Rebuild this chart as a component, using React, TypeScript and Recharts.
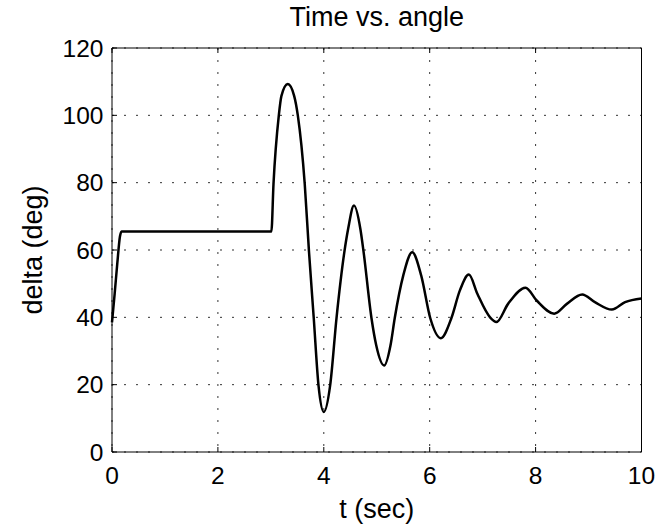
import React from 'react';
import { LineChart, Line, XAxis, YAxis, CartesianGrid } from 'recharts';

const timeSec = [
  0, 0.05, 0.1, 0.15, 0.18, 1, 2, 3.01,
  3.05, 3.15, 3.2, 3.32, 3.44, 3.51, 3.64, 3.72, 3.81, 3.9, 4.0,
  4.12, 4.24, 4.39, 4.46, 4.57, 4.69, 4.75, 4.9, 4.99, 5.14,
  5.26, 5.34, 5.5, 5.67, 5.84, 6.01, 6.21, 6.41, 6.57, 6.74,
  6.9, 7.14, 7.26, 7.48, 7.81, 8.02, 8.35, 8.59, 8.88, 9.12,
  9.44, 9.69, 10,
];
const deltaDeg = [
  38.5, 47, 56, 64, 65.5, 65.5, 65.5, 65.5,
  79.6, 99.9, 105.8, 109.3, 105.8, 99.9, 79.6, 59.6, 39.8, 19.8, 11.9,
  19.8, 39.8, 59.6, 66.3, 73.2, 66.3, 59.6, 39.8, 31.7, 25.7,
  31.7, 39.8, 52.4, 59.3, 52.4, 39.8, 33.8, 39.8, 48.0, 52.7,
  47.0, 40.0, 38.6, 44.0, 48.8, 45.0, 41.1, 44.0, 46.8, 44.5,
  42.3, 44.5, 45.6,
];
const xTicks = [0, 2, 4, 6, 8, 10];
const yTicks = [0, 20, 40, 60, 80, 100, 120];

const data = timeSec.map((t, i) => ({ t, delta: deltaDeg[i] }));

const FONT = '"Liberation Sans", Arial, Helvetica, sans-serif';
const tickStyle = { fill: '#000', fontSize: 24.5, fontFamily: FONT };
const noLabel = () => '';

export default function App() {
  return (
    <div style={{ position: 'absolute', left: 0, top: 0, width: 659, height: 526, background: '#fff' }}>
      <LineChart width={659} height={526} data={data} margin={{ top: 0, right: 0, bottom: 0, left: 0 }}>
        <CartesianGrid stroke="#333" strokeDasharray="2 10" />
        <XAxis
          dataKey="t"
          type="number"
          domain={[0, 10]}
          ticks={xTicks}
          interval={0}
          height={74}
          tickSize={-5}
          tickMargin={20}
          axisLine={{ stroke: '#000' }}
          tickLine={{ stroke: '#000' }}
          tick={tickStyle}
          label={{ value: 't (sec)', position: 'insideBottom', offset: 8, fill: '#000', fontSize: 27, fontFamily: FONT }}
        />
        <XAxis
          xAxisId="top"
          orientation="top"
          dataKey="t"
          type="number"
          domain={[0, 10]}
          ticks={xTicks}
          interval={0}
          height={48}
          tickSize={-5}
          tickFormatter={noLabel}
          axisLine={{ stroke: '#000' }}
          tickLine={{ stroke: '#000' }}
          label={{ value: 'Time vs. angle', position: 'insideTop', offset: 7, fill: '#000', fontSize: 27, fontFamily: FONT }}
        />
        <YAxis
          type="number"
          domain={[0, 120]}
          ticks={yTicks}
          interval={0}
          width={112}
          tickSize={-5}
          tickMargin={13.5}
          axisLine={{ stroke: '#000' }}
          tickLine={{ stroke: '#000' }}
          tick={tickStyle}
          label={{ value: 'delta (deg)', angle: -90, position: 'insideLeft', offset: 32, fill: '#000', fontSize: 27, fontFamily: FONT, style: { textAnchor: 'middle' } }}
        />
        <YAxis
          yAxisId="right"
          orientation="right"
          type="number"
          domain={[0, 120]}
          ticks={yTicks}
          interval={0}
          width={17.5}
          tickSize={-5}
          tickFormatter={noLabel}
          axisLine={{ stroke: '#000' }}
          tickLine={{ stroke: '#000' }}
        />
        <Line
          type="monotone"
          dataKey="delta"
          stroke="#000"
          strokeWidth={2.5}
          dot={false}
          isAnimationActive={false}
        />
      </LineChart>
    </div>
  );
}
